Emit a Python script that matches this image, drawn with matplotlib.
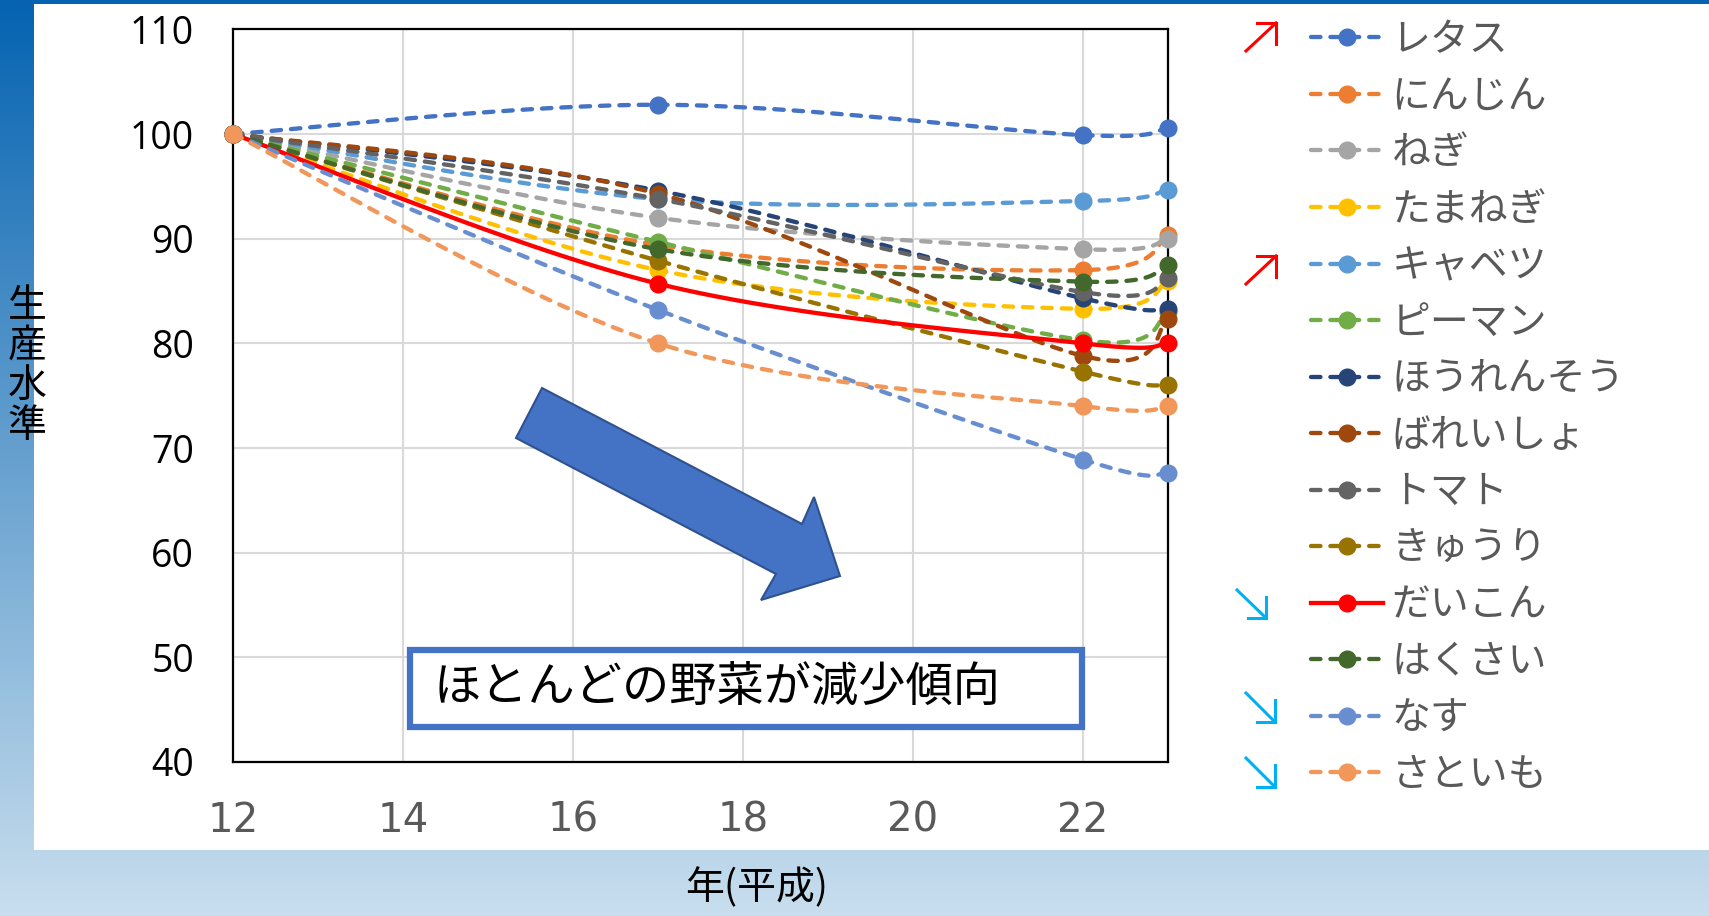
import numpy as np
import matplotlib.pyplot as plt
from matplotlib.lines import Line2D
from matplotlib.patches import Polygon, Rectangle

plt.rcParams['font.family'] = ['Noto Sans CJK JP', 'DejaVu Sans']

W, H = 1709, 916

# 年(平成)
years = [12, 17, 22, 23]

names = ['レタス', 'にんじん', 'ねぎ', 'たまねぎ', 'キャベツ', 'ピーマン', 'ほうれんそう',
         'ばれいしょ', 'トマト', 'きゅうり', 'だいこん', 'はくさい', 'なす', 'さといも']

# 生産水準 (平成12年 = 100)
lettuce = [100, 102.8, 99.9, 100.6]
carrot = [100, 89.4, 87.0, 90.4]
welsh_onion = [100, 92.0, 89.0, 90.0]
onion = [100, 87.0, 83.3, 86.0]
cabbage = [100, 93.8, 93.6, 94.7]
green_pepper = [100, 89.7, 80.3, 83.0]
spinach = [100, 94.6, 84.3, 83.3]
potato = [100, 94.3, 78.8, 82.3]
tomato = [100, 93.8, 84.9, 86.2]
cucumber = [100, 87.9, 77.3, 76.0]
radish = [100, 85.7, 80.0, 80.0]
chinese_cabbage = [100, 89.0, 85.9, 87.5]
eggplant = [100, 83.2, 68.9, 67.6]
taro = [100, 80.0, 74.0, 74.0]

series = [lettuce, carrot, welsh_onion, onion, cabbage, green_pepper, spinach,
          potato, tomato, cucumber, radish, chinese_cabbage, eggplant, taro]

colors = ['#4472c4', '#ed7d31', '#a5a5a5', '#ffc000', '#5b9bd5', '#70ad47', '#264478',
          '#9e480e', '#636363', '#997300', '#ff0000', '#43682b', '#698ed0', '#f1975a']


def fx(x):
    return x / W


def fy(y):
    return 1 - y / H


def smooth(xs, ys, n=30):
    # Excel風の平滑線 (ベジェ曲線)
    p = np.column_stack([xs, ys]).astype(float)
    ext = np.vstack([p[0], p, p[-1]])
    t = np.linspace(0, 1, n)[1:, None]
    out = [p[:1]]
    for i in range(len(p) - 1):
        p0, p1 = ext[i + 1], ext[i + 2]
        c1 = p0 + (ext[i + 2] - ext[i]) / 6
        c2 = p1 - (ext[i + 3] - ext[i + 1]) / 6
        out.append((1 - t) ** 3 * p0 + 3 * (1 - t) ** 2 * t * c1
                   + 3 * (1 - t) * t ** 2 * c2 + t ** 3 * p1)
    c = np.vstack(out)
    return c[:, 0], c[:, 1]


fig = plt.figure(figsize=(W / 100, H / 100), dpi=100)

# 背景のグラデーション
bg = fig.add_axes([0, 0, 1, 1], zorder=-10)
grad = np.linspace(0, 1, 256)[:, None, None]
top = np.array([5, 99, 177]) / 255
bottom = np.array([200, 222, 238]) / 255
bg.imshow(top + (bottom - top) * grad, aspect='auto', extent=[0, 1, 0, 1], origin='upper')
bg.add_patch(Rectangle((fx(34), fy(850)), 1 - fx(34), (850 - 4) / H,
                       facecolor='white', edgecolor='none'))
bg.set_xlim(0, 1)
bg.set_ylim(0, 1)
bg.axis('off')

ax = fig.add_axes([fx(233), fy(762), (1168 - 233) / W, (762 - 29.4) / H])
lw = 3.1
ms = 12
handles = []
for name, vals, col in zip(names, series, colors):
    ls = '-' if name == 'だいこん' else (0, (2.2, 2.3))
    sx, sy = smooth(years, vals)
    ax.plot(sx, sy, color=col, lw=lw, linestyle=ls, dash_capstyle='round',
            solid_capstyle='round', zorder=3, clip_on=False)
    ax.plot(years, vals, 'o', color=col, ms=ms, zorder=3, clip_on=False)
    handles.append(Line2D([], [], color=col, lw=lw, linestyle=ls, dash_capstyle='round',
                          marker='o', ms=ms))

ax.set_xlim(12, 23)
ax.set_ylim(40, 110)
ax.set_xticks(range(12, 23, 2))
ax.set_yticks(range(40, 111, 10))
ax.grid(color='#d9d9d9', lw=1.5)
ax.set_axisbelow(True)
ax.tick_params(length=0)
ax.tick_params(axis='y', pad=28, labelsize=27, labelcolor='black')
ax.tick_params(axis='x', pad=28, labelsize=29, labelcolor='#595959')
for lab in ax.get_yticklabels():
    lab.set_family(['Open Sans', 'DejaVu Sans'])
for lab in ax.get_xticklabels():
    lab.set_family(['Liberation Sans Narrow', 'DejaVu Sans'])
for sp in ax.spines.values():
    sp.set_color('black')
    sp.set_linewidth(1.6)

fig.text(fx(757), fy(888), '年(平成)', fontsize=28, ha='center', va='center')
fig.text(fx(27), fy(366), '生\n産\n水\n準', fontsize=28, ha='center', va='center',
         linespacing=1.0)

# 青い矢印
arrow_pts = [(542, 388), (516, 438), (776, 574), (761, 600), (840, 576), (814, 497), (802, 524)]
fig.patches.append(Polygon([(fx(x), fy(y)) for x, y in arrow_pts], closed=True,
                           facecolor='#4472c4', edgecolor='#2f528f', lw=1.5,
                           transform=fig.transFigure, figure=fig))

# 注釈のテキストボックス
fig.patches.append(Rectangle((fx(410), fy(727)), (1082 - 410) / W, (727 - 650) / H,
                             facecolor='white', edgecolor='#4472c4', lw=4.5,
                             transform=fig.transFigure, figure=fig))
fig.text(fx(434), fy(688), 'ほとんどの野菜が減少傾向', fontsize=34, ha='left', va='center')

leg = fig.legend(handles, names, loc='upper left', bbox_to_anchor=(fx(1311), fy(20)),
                 frameon=False, fontsize=28, handlelength=1.85, handletextpad=0.22,
                 labelspacing=0.425, borderpad=0, borderaxespad=0, labelcolor='#595959')


def mark(x0, y0, x1, y1, color):
    # 尾(x0, y0) から先端(x1, y1) への細い矢印
    hx = 0.62 * (x0 - x1)
    hy = 0.75 * (y0 - y1)
    for xs, ys in [((x0, x1), (y0, y1)), ((x1 + hx, x1), (y1, y1)), ((x1, x1), (y1 + hy, y1))]:
        fig.lines.append(Line2D([fx(v) for v in xs], [fy(v) for v in ys], color=color, lw=2.2,
                                transform=fig.transFigure, figure=fig))


mark(1246, 51, 1276, 23, '#ff0000')
mark(1246, 284, 1276, 256, '#ff0000')
mark(1237, 590, 1266, 618, '#00b0f0')
mark(1246, 693, 1275, 722, '#00b0f0')
mark(1246, 758, 1275, 787, '#00b0f0')

fig.savefig('out.png', dpi=100)
